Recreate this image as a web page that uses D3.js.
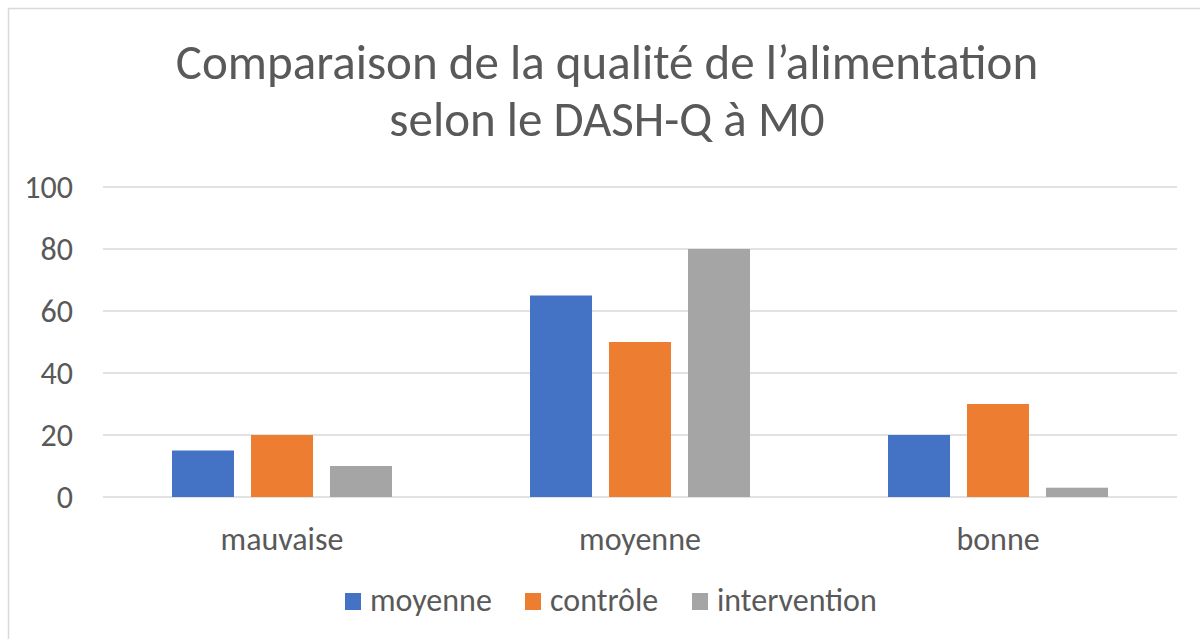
<!DOCTYPE html>
<html>
<head>
<meta charset="utf-8">
<script src="https://cdn.jsdelivr.net/npm/d3@7"></script>
<style>
  body { margin: 0; background: #fff; }
  svg text { font-family: Calibri, Carlito, "Open Sans", "Noto Sans", sans-serif; fill: #595959; }
</style>
</head>
<body>
<div id="chart"></div>
<script>
// Data
var categories = ["mauvaise", "moyenne", "bonne"];
var seriesNames = ["moyenne", "contrôle", "intervention"];
var moyenneValues = [15, 65, 20];
var controleValues = [20, 50, 30];
var interventionValues = [10, 80, 3];
var yTicks = [0, 20, 40, 60, 80, 100];
var titleLines = ["Comparaison de la qualité de l’alimentation", "selon le DASH-Q à M0"];

var seriesValues = [moyenneValues, controleValues, interventionValues];
var colors = ["#4472C4", "#ED7D31", "#A5A5A5"];

var w = 1200, h = 639;
var plotLeft = 103, plotRight = 1177, plotTop = 187, plotBottom = 497;

var svg = d3.select("#chart").append("svg")
    .attr("width", w)
    .attr("height", h);

// chart border
svg.append("rect")
    .attr("x", 8.5).attr("y", 8.5)
    .attr("width", w + 20).attr("height", h + 20)
    .attr("fill", "none")
    .attr("stroke", "#D9D9D9")
    .attr("stroke-width", 1.5);

// title
svg.append("text")
    .attr("text-anchor", "middle")
    .attr("font-size", 49)
    .selectAll("tspan")
    .data(titleLines)
    .enter().append("tspan")
    .attr("x", 607)
    .attr("y", function(d, i) { return 79 + i * 57; })
    .text(function(d) { return d; });

// scales
var xScale = d3.scaleBand()
    .domain(categories)
    .range([plotLeft, plotRight]);

var xInner = d3.scaleBand()
    .domain(d3.range(seriesNames.length))
    .range([69, xScale.bandwidth() - 69])
    .paddingInner(0.215);

var yScale = d3.scaleLinear()
    .domain([0, 100])
    .range([plotBottom, plotTop]);

// gridlines
svg.append("g").selectAll("line")
    .data(yTicks)
    .enter().append("line")
    .attr("x1", plotLeft).attr("x2", plotRight)
    .attr("y1", function(d) { return yScale(d); })
    .attr("y2", function(d) { return yScale(d); })
    .attr("stroke", "#D9D9D9")
    .attr("stroke-width", 1.5);

// y tick labels
svg.append("g").selectAll("text")
    .data(yTicks)
    .enter().append("text")
    .attr("x", 73)
    .attr("y", function(d) { return yScale(d); })
    .attr("dy", "0.35em")
    .attr("text-anchor", "end")
    .attr("font-size", 32)
    .text(function(d) { return d; });

// bars
categories.forEach(function(cat, ci) {
    var g = svg.append("g")
        .attr("transform", "translate(" + xScale(cat) + ",0)");
    g.selectAll("rect")
        .data(seriesValues.map(function(s, si) { return { s: si, v: s[ci] }; }))
        .enter().append("rect")
        .attr("x", function(d) { return xInner(d.s); })
        .attr("y", function(d) { return yScale(d.v); })
        .attr("width", xInner.bandwidth())
        .attr("height", function(d) { return plotBottom - yScale(d.v); })
        .attr("fill", function(d) { return colors[d.s]; });
});

// category labels
svg.append("g").selectAll("text")
    .data(categories)
    .enter().append("text")
    .attr("x", function(d) { return xScale(d) + xScale.bandwidth() / 2; })
    .attr("y", 550)
    .attr("text-anchor", "middle")
    .attr("font-size", 32)
    .text(function(d) { return d; });

// legend
var legendX = [345, 525, 692];
var legend = svg.append("g").selectAll("g")
    .data(seriesNames)
    .enter().append("g")
    .attr("transform", function(d, i) { return "translate(" + legendX[i] + ",593)"; });
legend.append("rect")
    .attr("width", 16).attr("height", 17)
    .attr("fill", function(d, i) { return colors[i]; });
legend.append("text")
    .attr("x", 25)
    .attr("y", 18)
    .attr("font-size", 32)
    .text(function(d) { return d; });
</script>
</body>
</html>
